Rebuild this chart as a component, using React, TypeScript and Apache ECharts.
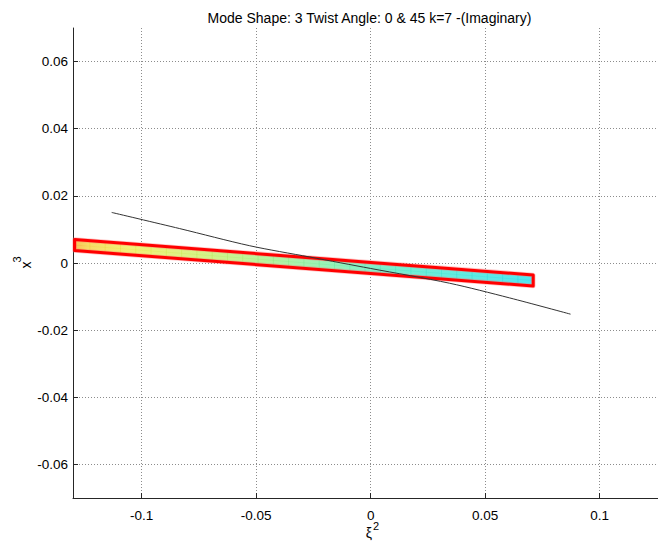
import React, { useEffect, useRef } from "react";
import * as echarts from "echarts";

// Tick positions
const xTicks = [-0.1, -0.05, 0, 0.05, 0.1];
const yTicks = [-0.06, -0.04, -0.02, 0, 0.02, 0.04, 0.06];

// Deformed strip: x of its two ends, upper and lower edge at each end
const bandX = [-0.1293, 0.071];
const bandTop = [0.00698, -0.00356];
const bandBottom = [0.00371, -0.00683];

// Colour of the strip faces from the left end (0) to the right end (1)
const bandFaceStops: [number, string][] = [
  [0, "#f8c458"],
  [0.03, "#f7dc66"],
  [0.12, "#f3f078"],
  [0.32, "#cef48c"],
  [0.52, "#a0f2b2"],
  [0.74, "#70eed6"],
  [1, "#52e6f0"],
];
// Colour of the mesh edges along the strip
const bandEdgeStops: [number, string][] = [
  [0, "#f08a20"],
  [0.03, "#eec830"],
  [0.12, "#e2e230"],
  [0.32, "#a8e650"],
  [0.52, "#66e488"],
  [0.74, "#30dcc0"],
  [1, "#18cce6"],
];
// Number of faces along the strip
const meshCells = 30;

// Undeformed reference line
const refX = [-0.1131, -0.0834, -0.0528, -0.0266, 0, 0.0345, 0.0607, 0.0873];
const refY = [0.01506, 0.01025, 0.00514, 0.00178, -0.00163, -0.00603, -0.0104, -0.01524];

const FONT = "'Liberation Sans', Arial, Helvetica, sans-serif";

function buildOption(): any {
  const stopsOf = (s: [number, string][]) => s.map(([offset, color]) => ({ offset, color }));
  const lerp = (a: number[], b: number[], t: number) => [a[0] + (b[0] - a[0]) * t, a[1] + (b[1] - a[1]) * t];

  return {
    animation: false,
    backgroundColor: "#ffffff",
    grid: { left: 73, right: 0, top: 28, bottom: 46, containLabel: false },
    xAxis: {
      type: "value",
      min: -0.13,
      max: 0.1255,
      axisLine: { show: true, onZero: false, lineStyle: { color: "#262626", width: 1 } },
      axisTick: { show: true, inside: true, length: 5, customValues: xTicks, lineStyle: { color: "#262626" } },
      axisLabel: {
        customValues: xTicks,
        margin: 10,
        color: "#000",
        fontSize: 13.5,
        fontFamily: FONT,
        formatter: (v: number) => String(+v.toFixed(3)),
      },
      splitLine: { show: true, lineStyle: { color: "#8c8c8c", type: [1, 2], width: 1 } },
    },
    yAxis: {
      type: "value",
      min: -0.07,
      max: 0.07,
      axisLine: { show: true, onZero: false, lineStyle: { color: "#262626", width: 1 } },
      axisTick: { show: true, inside: true, length: 5, customValues: yTicks, lineStyle: { color: "#262626" } },
      axisLabel: {
        customValues: yTicks,
        margin: 5,
        color: "#000",
        fontSize: 13.5,
        fontFamily: FONT,
        formatter: (v: number) => String(+v.toFixed(3)),
      },
      splitLine: { show: true, lineStyle: { color: "#8c8c8c", type: [1, 2], width: 1 } },
    },
    graphic: [
      {
        type: "text",
        x: 369.5,
        y: 17.5,
        style: {
          text: "Mode Shape: 3 Twist Angle: 0 & 45 k=7 -(Imaginary)",
          fill: "#000",
          font: `14px ${FONT}`,
          textAlign: "center",
          textVerticalAlign: "middle",
        },
      },
      {
        type: "text",
        x: 369,
        y: 533,
        style: { text: "ξ", fill: "#000", font: `14px ${FONT}`, textAlign: "center", textVerticalAlign: "middle" },
      },
      {
        type: "text",
        x: 376,
        y: 525.5,
        style: { text: "2", fill: "#000", font: `11px ${FONT}`, textAlign: "center", textVerticalAlign: "middle" },
      },
      {
        type: "text",
        x: 26,
        y: 265,
        rotation: Math.PI / 2,
        style: { text: "x", fill: "#000", font: `14px ${FONT}`, textAlign: "center", textVerticalAlign: "middle" },
      },
      {
        type: "text",
        x: 17,
        y: 259.5,
        rotation: Math.PI / 2,
        style: { text: "3", fill: "#000", font: `11px ${FONT}`, textAlign: "center", textVerticalAlign: "middle" },
      },
    ],
    series: [
      {
        type: "custom",
        coordinateSystem: "cartesian2d",
        silent: true,
        clip: false,
        z: 2,
        data: [[bandX[0], bandTop[0]]],
        renderItem: (_params: any, api: any) => {
          const tl = api.coord([bandX[0], bandTop[0]]);
          const tr = api.coord([bandX[1], bandTop[1]]);
          const br = api.coord([bandX[1], bandBottom[1]]);
          const bl = api.coord([bandX[0], bandBottom[0]]);
          const face = new echarts.graphic.LinearGradient(tl[0], 0, tr[0], 0, stopsOf(bandFaceStops), true);
          const edge = new echarts.graphic.LinearGradient(tl[0], 0, tr[0], 0, stopsOf(bandEdgeStops), true);
          const children: any[] = [
            { type: "polygon", shape: { points: [tl, tr, br, bl] }, style: { fill: face } },
          ];
          for (let i = 1; i < meshCells; i++) {
            const t = i / meshCells;
            const a = lerp(tl, tr, t);
            const b = lerp(bl, br, t);
            children.push({
              type: "line",
              shape: { x1: a[0], y1: a[1], x2: b[0], y2: b[1] },
              style: { stroke: edge, lineWidth: 0.7, opacity: 0.55 },
            });
          }
          const ml = lerp(tl, bl, 0.5);
          const mr = lerp(tr, br, 0.5);
          children.push({
            type: "line",
            shape: { x1: ml[0], y1: ml[1], x2: mr[0], y2: mr[1] },
            style: { stroke: edge, lineWidth: 0.6, opacity: 0.35 },
          });
          children.push({
            type: "polygon",
            shape: { points: [tl, tr, br, bl] },
            style: { fill: "none", stroke: "rgba(255,110,110,0.4)", lineWidth: 4.6, lineJoin: "round" },
          });
          children.push({
            type: "polygon",
            shape: { points: [tl, tr, br, bl] },
            style: { fill: "none", stroke: "#ff0000", lineWidth: 3, lineJoin: "round" },
          });
          return { type: "group", children };
        },
      },
      {
        type: "line",
        z: 3,
        silent: true,
        showSymbol: false,
        smooth: 0.3,
        data: refX.map((x, i) => [x, refY[i]]),
        lineStyle: { color: "#333333", width: 1 },
      },
    ],
  };
}

export default function App() {
  const ref = useRef<HTMLDivElement>(null);
  useEffect(() => {
    const chart = echarts.init(ref.current!, null, { renderer: "svg" });
    chart.setOption(buildOption());
    return () => chart.dispose();
  }, []);
  return (
    <div
      ref={ref}
      style={{ position: "absolute", left: 0, top: 0, width: 658, height: 544, background: "#ffffff" }}
    />
  );
}
